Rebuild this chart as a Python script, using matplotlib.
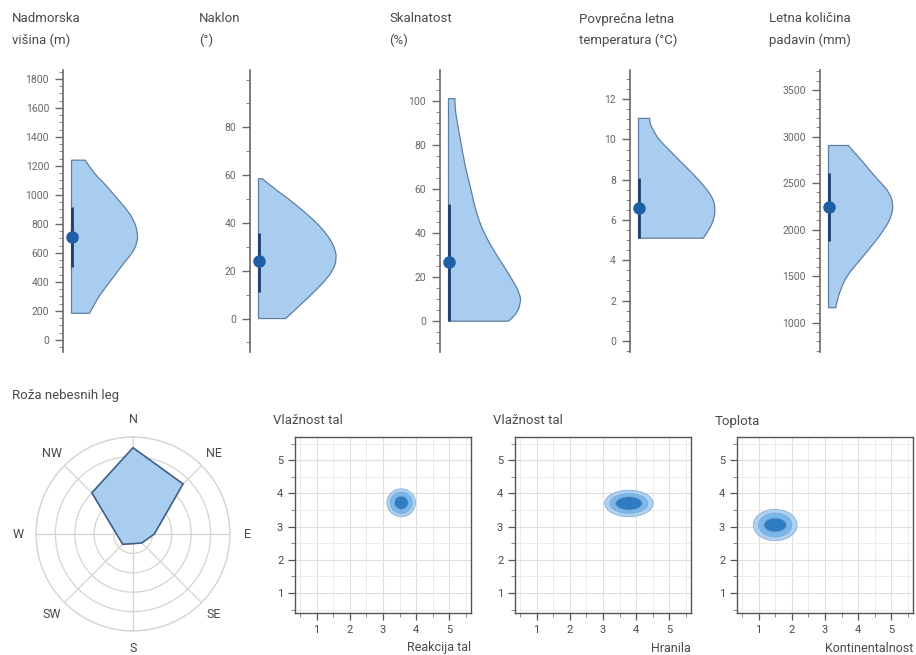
import matplotlib
matplotlib.use("Agg")
import matplotlib.pyplot as plt
from matplotlib.ticker import MultipleLocator
from matplotlib.patches import Ellipse, PathPatch
from matplotlib.path import Path
import numpy as np

plt.rcParams['font.family'] = ['Roboto', 'DejaVu Sans']

# ---------------- data ----------------
top_titles = [("Nadmorska", "višina (m)"), ("Naklon", "(°)"), ("Skalnatost", "(%)"),
              ("Povprečna letna", "temperatura (°C)"), ("Letna količina", "padavin (mm)")]

alt_y = [184, 264, 345, 437, 529, 598, 667, 736, 828, 908, 988, 1069, 1126, 1184, 1240]
alt_d = [0.225, 0.30, 0.40, 0.53, 0.65, 0.76, 0.82, 0.83, 0.78, 0.68, 0.55, 0.43, 0.32, 0.24, 0.17]
slope_y = [0, 5, 10, 15, 20, 25, 30, 35, 40, 45, 50, 55, 58.5]
slope_d = [0.34, 0.50, 0.66, 0.81, 0.93, 0.98, 0.95, 0.86, 0.73, 0.56, 0.38, 0.17, 0.05]
rock_y = [0, 3, 8, 12, 20, 30, 40, 50, 60, 70, 80, 90, 97, 101]
rock_d = [0.75, 0.85, 0.90, 0.90, 0.78, 0.60, 0.44, 0.34, 0.28, 0.21, 0.16, 0.11, 0.08, 0.08]
temp_y = [5.1, 5.5, 6.0, 6.5, 7.0, 7.5, 8.0, 8.5, 9.0, 9.5, 10.0, 10.5, 10.8, 11.05]
temp_d = [0.81, 0.88, 0.94, 0.96, 0.94, 0.86, 0.75, 0.63, 0.50, 0.38, 0.25, 0.18, 0.14, 0.14]
prec_y = [1162, 1250, 1400, 1500, 1600, 1750, 2000, 2150, 2280, 2400, 2500, 2600, 2750, 2850, 2905]
prec_d = [0.09, 0.11, 0.17, 0.23, 0.32, 0.47, 0.70, 0.79, 0.81, 0.76, 0.66, 0.55, 0.41, 0.30, 0.25]

violin_y = [alt_y, slope_y, rock_y, temp_y, prec_y]
violin_d = [alt_d, slope_d, rock_d, temp_d, prec_d]
means = [710, 24, 27, 6.6, 2240]
bar_lo = [500, 11, 0, 5.1, 1880]
bar_hi = [920, 36, 53, 8.1, 2610]

top_ylims = [(-83, 1862), (-14, 104), (-14, 114), (-0.55, 13.45), (686, 3716)]
top_ticks = [list(range(0, 1801, 200)), [0, 20, 40, 60, 80], [0, 20, 40, 60, 80, 100],
             [0, 2, 4, 6, 8, 10, 12], [1000, 1500, 2000, 2500, 3000, 3500]]
top_minor = [50, 10, 5, 0.5, 100]

rose_labels = ["N", "NE", "E", "SE", "S", "SW", "W", "NW"]
rose_values = [0.89, 0.73, 0.22, 0.13, 0.10, 0.15, 0.17, 0.60]

kde_titles = ["Vlažnost tal", "Vlažnost tal", "Toplota"]
kde_xlabels = ["Reakcija tal", "Hranila", "Kontinentalnost"]
kde_centers = [(3.55, 3.72), (3.78, 3.70), (1.50, 3.05)]
kde_outer = [(0.43, 0.42), (0.73, 0.40), (0.66, 0.47)]
kde_mid = [(0.33, 0.32), (0.57, 0.30), (0.50, 0.36)]
kde_inner = [(0.21, 0.20), (0.40, 0.20), (0.34, 0.21)]
kde_ticks = [1, 2, 3, 4, 5]

# ---------------- styling ----------------
W, H = 916, 655
fig = plt.figure(figsize=(W / 100, H / 100), dpi=100)

def rect(x0, y0, x1, y1):
    return [x0 / W, 1 - y1 / H, (x1 - x0) / W, (y1 - y0) / H]

def smooth_path(xs, ys, x0):
    # quadratic-bezier outline through the read points (rendering only)
    verts = [(x0, ys[0]), (xs[0], ys[0])]
    codes = [Path.MOVETO, Path.LINETO]
    n = len(xs)
    for k in range(1, n - 1):
        mx = (xs[k] + xs[k + 1]) / 2
        my = (ys[k] + ys[k + 1]) / 2
        if k == n - 2:
            mx, my = xs[k + 1], ys[k + 1]
        verts += [(xs[k], ys[k]), (mx, my)]
        codes += [Path.CURVE3, Path.CURVE3]
    verts += [(x0, ys[-1]), (x0, ys[0])]
    codes += [Path.LINETO, Path.CLOSEPOLY]
    return Path(verts, codes)

TXT = "#4a4a4a"
TICK = "#666666"
SPINE = "#6a6a6a"
FILL = "#a9cdef"
EDGE = "#5d7fa3"
DOT = "#1f5fa6"
BAR = "#1d3f6e"

spine_x = [63, 250, 440, 630, 820]
for i in range(5):
    sx = spine_x[i]
    ax = fig.add_axes(rect(sx, 70, sx + 95, 352))
    ax.set_xlim(0, 95)
    ax.set_ylim(*top_ylims[i])
    for s in ["top", "right", "bottom"]:
        ax.spines[s].set_visible(False)
    ax.spines["left"].set_color(SPINE)
    ax.spines["left"].set_linewidth(1.2)
    ax.set_xticks([])
    ax.set_yticks(top_ticks[i])
    ax.yaxis.set_minor_locator(MultipleLocator(top_minor[i]))
    ax.tick_params(axis="y", which="major", length=6, width=1, color=SPINE,
                   labelsize=7.5, labelcolor=TICK, pad=4)
    ax.tick_params(axis="y", which="minor", length=3, width=0.7, color="#888888")
    ys = np.array(violin_y[i], dtype=float)
    ds = np.array(violin_d[i], dtype=float)
    x0 = 8.5
    xs = x0 + ds * 80
    ax.add_patch(PathPatch(smooth_path(xs, ys, x0), facecolor=FILL, edgecolor=EDGE,
                           linewidth=0.9, zorder=2))
    ax.plot([x0, x0], [bar_lo[i], bar_hi[i]], color=BAR, linewidth=2, zorder=3,
            solid_capstyle="butt")
    ax.plot([x0], [means[i]], "o", color=DOT, markersize=8, zorder=4)
    fig.text((sx - 51) / W, 1 - 19 / H, top_titles[i][0], fontsize=9.5, color=TXT,
             ha="left", va="center")
    fig.text((sx - 51) / W, 1 - 40 / H, top_titles[i][1], fontsize=9.5, color=TXT,
             ha="left", va="center")

# ---------------- rose ----------------
pax = fig.add_axes(rect(36, 437, 230, 631), projection="polar")
pax.set_theta_zero_location("N")
pax.set_theta_direction(-1)
theta = np.deg2rad(np.arange(0, 360, 45))
pax.set_ylim(0, 1)
pax.set_yticks([0.2, 0.4, 0.6, 0.8, 1.0])
pax.set_yticklabels([])
pax.set_xticks(theta)
pax.set_xticklabels([])
pax.tick_params(length=0)
pax.grid(True, color="#d4d4d4", linewidth=0.9)
pax.spines["polar"].set_color("#d4d4d4")
pax.spines["polar"].set_linewidth(0.9)
rv = np.array(rose_values)
pax.fill(np.concatenate([theta, theta[:1]]), np.concatenate([rv, rv[:1]]),
         facecolor=FILL, edgecolor="#3e5f85", linewidth=1.2, zorder=3)
for t, lab in zip(theta, rose_labels):
    pax.text(t, 1.18, lab, ha="center", va="center", fontsize=9, color=TXT)
fig.text(12 / W, 1 - 395 / H, "Roža nebesnih leg", fontsize=9.5, color=TXT,
         ha="left", va="center")

# ---------------- KDE panels ----------------
kde_lefts = [295, 515, 737]
for i in range(3):
    l = kde_lefts[i]
    ax = fig.add_axes(rect(l, 437, l + 176, 613))
    ax.set_xlim(0.35, 5.65)
    ax.set_ylim(0.4, 5.7)
    ax.set_xticks(kde_ticks)
    ax.set_yticks(kde_ticks)
    ax.xaxis.set_minor_locator(MultipleLocator(0.5))
    ax.yaxis.set_minor_locator(MultipleLocator(0.5))
    ax.grid(True, which="major", color="#dedede", linewidth=0.8)
    ax.grid(True, which="minor", color="#ececec", linewidth=0.7)
    ax.set_axisbelow(True)
    for s in ax.spines.values():
        s.set_color("#555555")
        s.set_linewidth(1.0)
    ax.tick_params(which="major", length=5, width=0.9, color="#555555",
                   labelsize=8, labelcolor=TXT)
    ax.tick_params(which="minor", length=3, width=0.7, color="#888888")
    cx, cy = kde_centers[i]
    for (sxr, syr), col in zip([kde_outer[i], kde_mid[i], kde_inner[i]],
                               ["#aed1f1", "#7ab7ea", "#2f7cc3"]):
        ax.add_patch(Ellipse((cx, cy), 2 * sxr, 2 * syr, facecolor=col,
                             edgecolor="#7aa6cf", linewidth=0.5, zorder=3))
    fig.text((l - 22) / W, 1 - 421 / H, kde_titles[i], fontsize=9.5, color=TXT,
             ha="left", va="center")
    fig.text((l + 176) / W, 1 - 648 / H, kde_xlabels[i], fontsize=9, color=TXT,
             ha="right", va="center")

fig.savefig("out.png", dpi=100)
